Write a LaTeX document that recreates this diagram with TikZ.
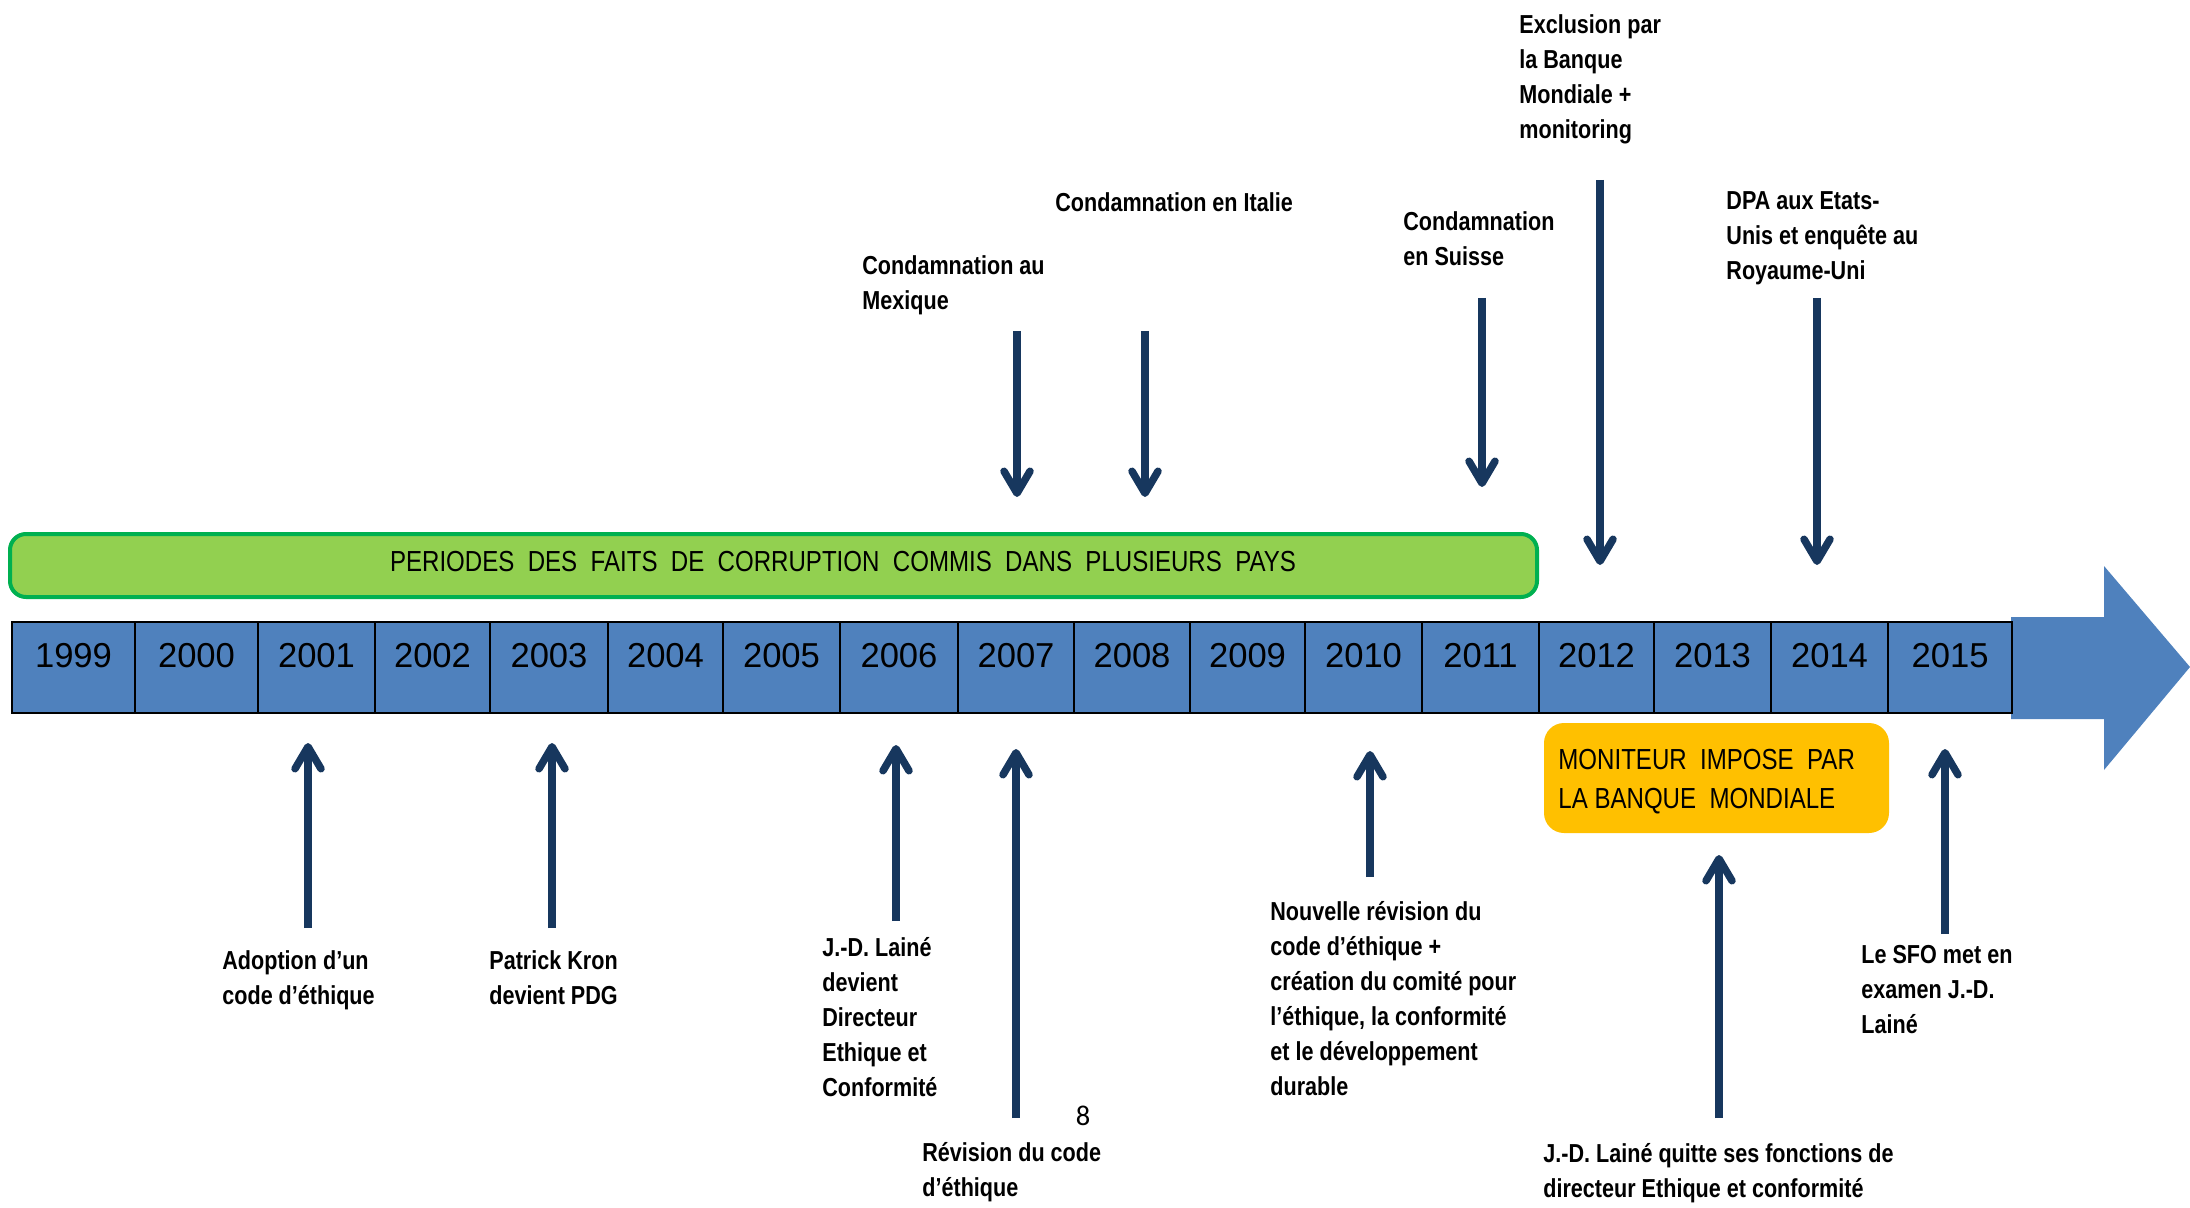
\documentclass[tikz,border=0pt]{standalone}
\usepackage{fontspec}
\setmainfont{Liberation Sans}
\newfontfamily\narrowfont{Liberation Sans}[FakeStretch=0.83]
\newfontfamily\calfont{Carlito}
\usetikzlibrary{arrows.meta}
\definecolor{navy}{HTML}{17375E}
\definecolor{boxblue}{HTML}{4F81BD}
\definecolor{gfill}{HTML}{92D050}
\definecolor{gborder}{HTML}{00B050}
\definecolor{orangefill}{HTML}{FFC000}
\tikzset{
  lbl/.style={font=\narrowfont\bfseries\fontsize{13}{17.5}\selectfont, align=left, inner sep=0pt, anchor=base west},
  arr/.style={draw=navy, line width=3.75pt, -{Straight Barb[length=11pt,width=13pt,round]}},
  yearbox/.style={draw=black, line width=1pt, fill=boxblue, minimum height=45.5pt, inner sep=0pt, text height=6pt, text depth=6pt, font=\fontsize{17.3}{20}\selectfont},
}
\begin{document}
\begin{tikzpicture}[x=0.5pt,y=-0.5pt]
\useasboundingbox (0,0) rectangle (2190,1208);
% big arrow
\fill[boxblue] (2011,617) -- (2104,617) -- (2104,566) -- (2190,667) -- (2104,770) -- (2104,719) -- (2011,719) -- cycle;
% year boxes
\foreach \a/\b/\y in {12/135/1999, 135/258/2000, 258/375/2001, 375/490/2002, 490/608/2003, 608/723/2004, 723/840/2005, 840/958/2006, 958/1074/2007, 1074/1190/2008, 1190/1305/2009, 1305/1422/2010, 1422/1539/2011, 1539/1654/2012, 1654/1771/2013, 1771/1888/2014, 1888/2012/2015}
  \node[yearbox, minimum width={(\b-\a)*0.5pt}] (y\y) at ({(\a+\b)/2},667.5) {\y};
% green bar
\node[draw=gborder, line width=2pt, fill=gfill, rounded corners=8pt, minimum width=763.5pt, minimum height=31.5pt, inner sep=0pt] (bar) at (773.5,565.5) {};
\node[font=\narrowfont\fontsize{14.5}{17}\selectfont, inner sep=0pt, anchor=base] (bartxt) at (843,571)
  {PERIODES~~DES~~FAITS~~DE~~CORRUPTION~~COMMIS~~DANS~~PLUSIEURS~~PAYS};
% orange box
\node[fill=orangefill, rounded corners=10pt, minimum width=172.5pt, minimum height=55pt, inner sep=0pt] (monbox) at (1716.5,778) {};
\node[font=\narrowfont\fontsize{14.5}{19.5}\selectfont, align=left, anchor=base west, inner sep=0pt] (montxt) at (1558,808) {MONITEUR~~IMPOSE~~PAR\\LA~BANQUE~~MONDIALE};
% top labels (anchored at the baseline of their last line)
\node[lbl] (tMex) at (862,310) {Condamnation au\\Mexique};
\node[lbl] (tIta) at (1055,212) {Condamnation en Italie};
\node[lbl] (tSui) at (1403,266) {Condamnation\\en Suisse};
\node[lbl] (tExc) at (1519,139) {Exclusion par\\la Banque\\Mondiale +\\monitoring};
\node[lbl] (tDPA) at (1726,280) {DPA aux Etats-\\Unis et enquête au\\Royaume-Uni};
% bottom labels
\node[lbl] (bAdo) at (222,1004) {Adoption d’un\\code d’éthique};
\node[lbl] (bKro) at (489,1004) {Patrick Kron\\devient PDG};
\node[lbl] (bLai) at (822,1096) {J.-D. Lainé\\devient\\Directeur\\Ethique et\\Conformité};
\node[lbl] (bRev) at (922,1196) {Révision du code\\d’éthique};
\node[lbl] (bNou) at (1270,1095) {Nouvelle révision du\\code d’éthique +\\création du comité pour\\l’éthique, la conformité\\et le développement\\durable};
\node[lbl] (bQui) at (1543,1197) {J.-D. Lainé quitte ses fonctions de\\directeur Ethique et conformité};
\node[lbl] (bSFO) at (1861,1033) {Le SFO met en\\examen J.-D.\\Lainé};
\node[font=\calfont\fontsize{14.25}{17}\selectfont, inner sep=0pt, anchor=base] (pg) at (1083,1125) {8};
% arrow end points
\coordinate (d1s) at (1017,331); \coordinate (d1e) at (1017,497);
\coordinate (d2s) at (1145,331); \coordinate (d2e) at (1145,497);
\coordinate (d3s) at (1482,298); \coordinate (d3e) at (1482,487);
\coordinate (d4s) at (1600,180); \coordinate (d4e) at (1600,565);
\coordinate (d5s) at (1817,298); \coordinate (d5e) at (1817,565);
\coordinate (u1s) at (308,928);  \coordinate (u1e) at (308,743);
\coordinate (u2s) at (552,928);  \coordinate (u2e) at (552,743);
\coordinate (u3s) at (896,921);  \coordinate (u3e) at (896,745);
\coordinate (u4s) at (1016,1118); \coordinate (u4e) at (1016,749);
\coordinate (u5s) at (1370,877); \coordinate (u5e) at (1370,751);
\coordinate (u6s) at (1719,1118); \coordinate (u6e) at (1719,855);
\coordinate (u7s) at (1945,934); \coordinate (u7e) at (1945,749);
\foreach \n in {d1,d2,d3,d4,d5,u1,u2,u3,u4,u5,u6,u7}
  \draw[arr] (\n s) -- (\n e);
\end{tikzpicture}
\end{document}
